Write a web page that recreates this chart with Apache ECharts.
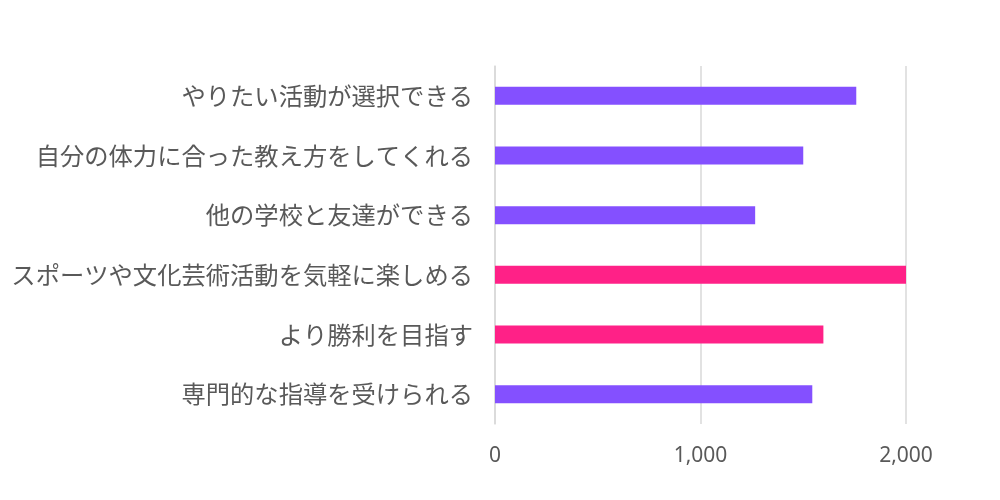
<!DOCTYPE html>
<html>
<head>
<meta charset="utf-8">
<script src="https://cdn.jsdelivr.net/npm/echarts@6/dist/echarts.min.js"></script>
<style>html,body{margin:0;padding:0;background:#fff;}#c{width:1000px;height:500px;}</style>
</head>
<body>
<div id="c"></div>
<script>
var categories = [
  'やりたい活動が選択できる',
  '自分の体力に合った教え方をしてくれる',
  '他の学校と友達ができる',
  'スポーツや文化芸術活動を気軽に楽しめる',
  'より勝利を目指す',
  '専門的な指導を受けられる'
];
var values = [1758, 1500, 1266, 2000, 1598, 1544];
var barColors = ['#8450FF', '#8450FF', '#8450FF', '#FF2187', '#FF2187', '#8450FF'];

var chart = echarts.init(document.getElementById('c'));
chart.setOption({
  animation: false,
  backgroundColor: '#fff',
  grid: { left: 495, right: 94, top: 66, bottom: 76, containLabel: false },
  xAxis: {
    type: 'value', min: 0, max: 2000, interval: 1000,
    axisLine: { show: false }, axisTick: { show: false },
    splitLine: { show: true, lineStyle: { color: '#d9d9d9', width: 1.5 } },
    axisLabel: {
      color: '#595959', fontSize: 21, margin: 22,
      fontFamily: 'Noto Sans, sans-serif',
      formatter: function (v) { return v.toLocaleString('en-US'); }
    }
  },
  yAxis: {
    type: 'category', data: categories, inverse: true,
    axisLine: { show: true, lineStyle: { color: '#d9d9d9', width: 1.5 } },
    axisTick: { show: false },
    axisLabel: {
      color: '#595959', fontSize: 24.3, margin: 22,
      fontFamily: '"Noto Sans CJK JP", sans-serif'
    }
  },
  series: [{
    type: 'bar',
    barWidth: 18,
    data: values.map(function (v, i) { return { value: v, itemStyle: { color: barColors[i] } }; })
  }]
});
</script>
</body>
</html>
